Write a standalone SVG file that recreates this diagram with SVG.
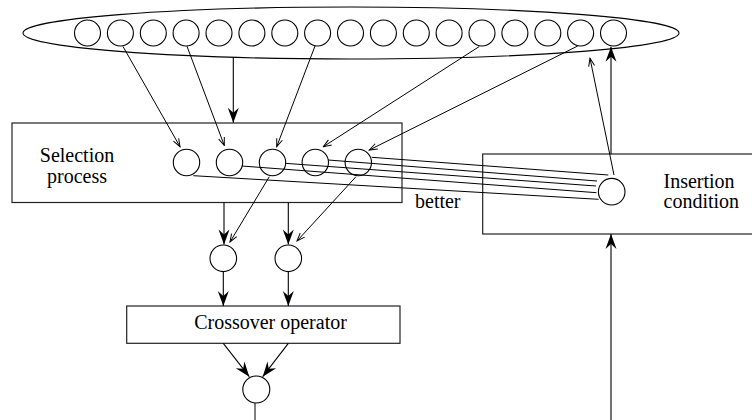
<svg xmlns="http://www.w3.org/2000/svg" width="752" height="420" viewBox="0 0 752 420">
<style>
  .box { fill: #fff; stroke: #222; stroke-width: 1.2; }
  .c { fill: #fff; stroke: #000; stroke-width: 1.1; }
  .ln { fill: none; stroke: #000; stroke-width: 1; }
  .thin { fill: none; stroke: #000; stroke-width: 1; marker-end: url(#thinHead); }
  .bold { fill: none; stroke: #000; stroke-width: 1.1; marker-end: url(#boldHead); }
  .t { font-family: "Liberation Serif", "Times New Roman", serif; font-size: 20px; fill: #000; }
</style>
<defs>
  <marker id="boldHead" markerUnits="userSpaceOnUse" viewBox="-16 -7 17 14" refX="0" refY="0" markerWidth="17" markerHeight="14" orient="auto">
    <path d="M0,0 L-15,-5.5 L-10,0 L-15,5.5 Z" fill="#000"/>
  </marker>
  <marker id="thinHead" markerUnits="userSpaceOnUse" viewBox="-9 -4 10 8" refX="0" refY="0" markerWidth="10" markerHeight="8" orient="auto">
    <path d="M-8,-3 L0,0 L-8,3" fill="none" stroke="#000" stroke-width="1"/>
  </marker>
</defs>
<rect width="752" height="420" fill="#fff"/>

<g id="population">
  <ellipse cx="351" cy="33" rx="328" ry="26" class="c"/>
  <circle cx="87.5" cy="33" r="13" class="c"/>
  <circle cx="120.4" cy="33" r="13" class="c"/>
  <circle cx="153.3" cy="33" r="13" class="c"/>
  <circle cx="186.1" cy="33" r="13" class="c"/>
  <circle cx="219" cy="33" r="13" class="c"/>
  <circle cx="251.9" cy="33" r="13" class="c"/>
  <circle cx="284.8" cy="33" r="13" class="c"/>
  <circle cx="317.6" cy="33" r="13" class="c"/>
  <circle cx="350.5" cy="33" r="13" class="c"/>
  <circle cx="383.4" cy="33" r="13" class="c"/>
  <circle cx="416.3" cy="33" r="13" class="c"/>
  <circle cx="449.1" cy="33" r="13" class="c"/>
  <circle cx="482" cy="33" r="13" class="c"/>
  <circle cx="514.9" cy="33" r="13" class="c"/>
  <circle cx="547.8" cy="33" r="13" class="c"/>
  <circle cx="580.6" cy="33" r="13" class="c"/>
  <circle cx="613.5" cy="33" r="13" class="c"/>
</g>

<g id="selection">
  <rect x="12" y="123" width="390" height="79.5" class="box"/>
  <text class="t" x="77" y="162.3" text-anchor="middle">Selection</text>
  <text class="t" x="77" y="182.8" text-anchor="middle">process</text>
  <circle cx="186.5" cy="162.5" r="13.2" class="c"/>
  <circle cx="229.5" cy="162.5" r="13.2" class="c"/>
  <circle cx="272.5" cy="162.5" r="13.2" class="c"/>
  <circle cx="315.3" cy="162.5" r="13.2" class="c"/>
  <circle cx="358.3" cy="162.5" r="13.2" class="c"/>
</g>

<g id="insertion">
  <rect x="482.7" y="154" width="290" height="80" class="box"/>
  <text class="t" x="663.5" y="187.5">Insertion</text>
  <text class="t" x="663.5" y="208">condition</text>
  <circle cx="611.7" cy="191.7" r="13.3" class="c"/>
</g>

<g id="parents">
  <circle cx="223.3" cy="258.3" r="13.3" class="c"/>
  <circle cx="288.3" cy="258.3" r="13.3" class="c"/>
</g>

<g id="crossover">
  <rect x="126.7" y="306" width="273.3" height="37.3" class="box"/>
  <text class="t" x="270.5" y="329.3" text-anchor="middle">Crossover operator</text>
</g>

<g id="offspring">
  <circle cx="256.3" cy="389.5" r="13.5" class="c"/>
</g>

<g id="connectors">
  <line x1="123" y1="46.5" x2="180" y2="146.7" class="thin"/>
  <line x1="187" y1="46.3" x2="224.3" y2="145.5" class="thin"/>
  <line x1="315" y1="46" x2="276.7" y2="146.7" class="thin"/>
  <line x1="479.3" y1="46.5" x2="323.3" y2="146.7" class="thin"/>
  <line x1="577.7" y1="46" x2="369.3" y2="150" class="thin"/>
  <line x1="233.3" y1="57.3" x2="233.3" y2="122.7" class="bold"/>
  <line x1="193.3" y1="175.7" x2="598.5" y2="199.3" class="ln"/>
  <line x1="241.7" y1="166" x2="596.5" y2="192.7" class="ln"/>
  <line x1="285" y1="163.3" x2="596" y2="186" class="ln"/>
  <line x1="328.3" y1="160" x2="597" y2="181" class="ln"/>
  <line x1="371.7" y1="157.3" x2="608.3" y2="175" class="ln"/>
  <text class="t" x="415" y="208.3">better</text>
  <line x1="224" y1="202.5" x2="224" y2="244.5" class="bold"/>
  <line x1="288.3" y1="202.5" x2="288.3" y2="244.5" class="bold"/>
  <line x1="269.3" y1="176.7" x2="230" y2="242" class="thin"/>
  <line x1="356" y1="176.7" x2="297" y2="241" class="thin"/>
  <line x1="223.3" y1="271.6" x2="223.3" y2="306" class="bold"/>
  <line x1="288.3" y1="271.6" x2="288.3" y2="306" class="bold"/>
  <line x1="223.3" y1="343.3" x2="249.3" y2="376.7" class="bold"/>
  <line x1="288.3" y1="343.3" x2="262.7" y2="376.7" class="bold"/>
  <line x1="255" y1="403" x2="255" y2="425" class="ln"/>
  <line x1="611" y1="425" x2="611" y2="234" class="bold"/>
  <line x1="611" y1="154" x2="611" y2="46.7" class="bold"/>
  <line x1="614" y1="175" x2="590" y2="58.3" class="thin"/>
</g>
</svg>
